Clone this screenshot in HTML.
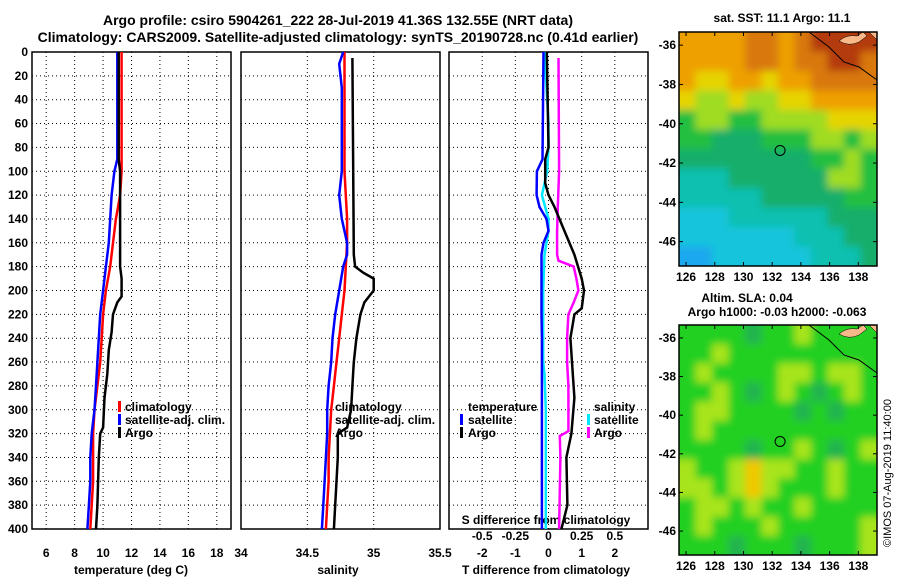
<!DOCTYPE html>
<html><head><meta charset="utf-8"><style>
body{margin:0;background:#fff;}
svg{display:block;font-family:"Liberation Sans",sans-serif;font-weight:bold;}
</style></head><body>
<svg id="c" width="900" height="580" viewBox="0 0 900 580">
<defs>
<filter id="blur" x="-5%" y="-5%" width="110%" height="110%"><feGaussianBlur stdDeviation="4"/></filter>
<clipPath id="clip1"><rect x="679" y="32" width="198" height="234"/></clipPath>
<clipPath id="clip2"><rect x="679" y="325" width="198" height="230"/></clipPath>
</defs>
<text x="338" y="25" font-size="14" text-anchor="middle">Argo profile: csiro 5904261_222 28-Jul-2019 41.36S 132.55E (NRT data)</text>
<text x="338" y="42" font-size="14" text-anchor="middle">Climatology: CARS2009. Satellite-adjusted climatology: synTS_20190728.nc (0.41d earlier)</text>
<text x="782" y="22" font-size="12" text-anchor="middle">sat. SST: 11.1 Argo: 11.1</text>
<text x="747" y="302" font-size="12" text-anchor="middle">Altim. SLA: 0.04</text>
<text x="777" y="316" font-size="12" text-anchor="middle">Argo h1000: -0.03 h2000: -0.063</text>
<text transform="translate(891,547) rotate(-90)" font-size="11" font-weight="normal">©IMOS 07-Aug-2019 11:40:00</text>
<g id="g"></g>
</svg>
<script>
// ---- data ----
const depthAxisTicks=[0,20,40,60,80,100,120,140,160,180,200,220,240,260,280,300,320,340,360,380,400];
const tTicks=[6,8,10,12,14,16,18];
const sTicks=[34,34.5,35,35.5];
const dTicks=[-2,-1,0,1,2];
const dsTicks=[-0.5,-0.25,0,0.25,0.5];
const tArgoDepth=[0,90,100,180,190,205,210,220,235,250,270,290,315,320,340,380,400];
const tArgo=[11.1,11.1,11.2,11.2,11.3,11.3,11.0,10.7,10.6,10.4,10.3,10.1,10.0,9.8,9.7,9.6,9.5];
const tClimDepth=[0,100,120,140,160,180,200,220,240,260,280,300,320,340,360,380,400];
const tClim=[11.3,11.3,11.2,10.9,10.7,10.5,10.2,10.0,9.9,9.8,9.6,9.4,9.3,9.3,9.3,9.2,9.1];
const tSatDepth=[0,90,100,120,140,160,180,200,220,240,260,280,300,320,340,360,380,400];
const tSat=[11.0,11.0,10.8,10.6,10.5,10.4,10.2,10.0,9.8,9.7,9.6,9.5,9.4,9.2,9.1,9.1,9.0,8.9];
const sArgoDepth=[5,170,180,185,190,200,210,220,240,260,280,300,315,320,340,360,380,400];
const sArgo=[34.84,34.85,34.86,34.92,35.0,35.0,34.93,34.90,34.87,34.85,34.84,34.83,34.80,34.73,34.73,34.72,34.71,34.70];
const sClimDepth=[0,100,120,140,160,180,200,220,240,260,280,300,320,340,360,380,400];
const sClim=[34.78,34.78,34.79,34.80,34.80,34.79,34.78,34.76,34.74,34.72,34.70,34.68,34.67,34.66,34.66,34.65,34.64];
const sSatDepth=[0,10,30,60,100,120,140,160,170,180,200,220,240,260,280,300,320,340,360,380,400];
const sSat=[34.77,34.74,34.76,34.76,34.76,34.74,34.76,34.80,34.80,34.77,34.74,34.71,34.69,34.68,34.66,34.65,34.65,34.64,34.63,34.62,34.61];
const dTArgoDepth=[0,80,90,110,120,130,150,170,190,200,215,220,240,290,320,340,380,400];
const dTArgo=[-0.05,0.0,-0.1,-0.1,0.0,0.18,0.48,0.78,1.0,1.07,1.0,0.78,0.66,0.78,0.69,0.54,0.57,0.39];
const dTSatDepth=[0,90,100,120,130,140,150,160,170,220,240,400];
const dTSat=[-0.15,-0.18,-0.35,-0.36,-0.27,-0.06,0.0,-0.15,-0.21,-0.21,-0.2,-0.2];
const dSSatDepth=[0,60,80,100,120,140,150,170,200,260,270,300,400];
const dSSat=[-0.03,0.0,0.0,-0.01,-0.05,0.0,0.0,-0.03,-0.04,-0.04,-0.03,-0.02,-0.02];
const dSArgoDepth=[5,100,130,150,170,175,180,190,200,210,220,240,260,280,300,318,322,340,400];
const dSArgo=[0.075,0.08,0.07,0.065,0.065,0.075,0.19,0.21,0.225,0.19,0.15,0.14,0.14,0.15,0.15,0.15,0.085,0.09,0.08];
const lonTicks=[126,128,130,132,134,136,138];
const latTicks=[-36,-38,-40,-42,-44,-46];
const sstGrid=[
[8,8,8,8,9,9,8,9,10,10,10,10],[8,8,8,8,9,9,8,9,9,10,10,9],[8,7,7,8,8,7,8,8,9,9,9,9],
[7,6,6,7,6,6,7,7,8,8,8,8],[5,6,6,5,5,6,6,6,6,7,7,7],[5,5,4,4,4,5,5,5,6,6,5,6],
[4,4,4,4,4,4,4,4,5,5,6,5],[3,3,3,4,4,4,4,4,4,6,6,5],[3,3,3,3,3,4,4,4,4,4,5,5],
[2,2,2,3,3,3,3,3,3,4,4,4],[2,2,2,2,2,2,2,3,3,3,4,4],[1,1,2,2,2,2,2,2,3,3,3,4]];
const slaGrid=[
[5,5,5,5,4,5,5,6,5,5,5,5],[5,5,6,5,5,5,5,5,5,5,5,5],[5,6,5,5,5,5,6,6,5,6,6,5],
[5,5,6,5,4,5,6,5,4,5,6,5],[5,6,6,5,5,5,5,4,5,4,5,5],[5,6,5,5,5,5,5,5,5,5,5,5],
[5,5,5,5,4,5,5,6,5,4,5,6],[6,5,5,6,7,6,6,5,5,6,5,5],[6,6,5,6,7,6,5,5,5,6,5,5],
[5,6,6,5,6,5,5,6,5,5,5,5],[5,6,5,5,5,6,5,5,5,5,5,6],[5,5,5,4,5,5,5,4,5,5,5,6]];
const argoLon=132.55, argoLat=-41.36;

// ---- drawing ----
const NS='http://www.w3.org/2000/svg';
const G=document.getElementById('g');
function mk(tag,at,parent){const e=document.createElementNS(NS,tag);for(const k in at)e.setAttribute(k,at[k]);(parent||G).appendChild(e);return e;}
const Y0=52,Y1=529;
const yD=d=>Y0+d/400*(Y1-Y0);
function lin(a,b,pa,pb){return v=>pa+(v-a)/(b-a)*(pb-pa);}
const xT=lin(5,19,32,231), xS=lin(34,35.5,241,440), xD=lin(-3,3,449,648), xDS=v=>xD(v*4);

function panel(x0,x1,name){
  const r=mk('rect',{x:x0,y:Y0,width:x1-x0,height:Y1-Y0,fill:'none',stroke:'#000','stroke-width':1.5});
  
  depthAxisTicks.forEach(d=>{if(d>0&&d<400){const l=mk('line',{x1:x0,x2:x1,y1:yD(d),y2:yD(d),stroke:'#000','stroke-dasharray':'1 3'});
    }});
}
function vgrid(ticks,f,name){ticks.forEach(t=>{const x=f(t);const l=mk('line',{x1:x,x2:x,y1:Y0,y2:Y1,stroke:'#000','stroke-dasharray':'1 3'});
  });}
function xlabels(ticks,f,y,name){ticks.forEach(t=>{const e=mk('text',{x:f(t),y:y,'font-size':12,'text-anchor':'middle'});e.textContent=t;
  });}
function series(ds,vs,f,color,name){const pts=ds.map((d,i)=>f(vs[i]).toFixed(1)+','+yD(d).toFixed(1)).join(' ');
  const p=mk('polyline',{points:pts,fill:'none',stroke:color,'stroke-width':2.5});
  }
function txt(x,y,s,name,size,anchor,parent){const e=mk('text',{x:x,y:y,'font-size':size||12,'text-anchor':anchor||'start'},parent);e.textContent=s;
  return e;}
function legMark(x,y,color,name){const r=mk('rect',{x:x,y:y-10,width:3,height:11,fill:color});}

// panel 1 temperature
panel(32,231,'temperature-panel');
vgrid(tTicks,xT,'temperature');
depthAxisTicks.forEach(d=>{txt(28,yD(d)+4,String(d),'depth-tick-label',12,'end');});
xlabels(tTicks,xT,557,'temperature');
txt(131,574,'temperature (deg C)','temperature-axis-title',12,'middle');
series(tClimDepth,tClim,xT,'#ff0000','temperature-climatology-line');
series(tSatDepth,tSat,xT,'#0000ff','temperature-satellite-line');
series(tArgoDepth,tArgo,xT,'#000000','temperature-argo-line');
legMark(118,411,'#ff0000','legend-climatology-marker');txt(125,411,'climatology','legend-climatology');
legMark(118,424,'#0000ff','legend-satellite-marker');txt(125,424,'satellite-adj. clim.','legend-satellite');
legMark(118,437,'#000000','legend-argo-marker');txt(125,437,'Argo','legend-argo');

// panel 2 salinity
panel(241,440,'salinity-panel');
vgrid([34.5,35],xS,'salinity');
xlabels(sTicks,xS,557,'salinity');
txt(338,574,'salinity','salinity-axis-title',12,'middle');
series(sClimDepth,sClim,xS,'#ff0000','salinity-climatology-line');
series(sSatDepth,sSat,xS,'#0000ff','salinity-satellite-line');
series(sArgoDepth,sArgo,xS,'#000000','salinity-argo-line');
txt(335,411,'climatology','legend2-climatology');
txt(335,424,'satellite-adj. clim.','legend2-satellite');
txt(335,437,'Argo','legend2-argo');

// panel 3 differences
panel(449,648,'difference-panel');
vgrid(dTicks,xD,'difference');
xlabels(dTicks,xD,557,'t-difference');
txt(546,574,'T difference from climatology','t-difference-axis-title',12,'middle');
txt(546,524,'S difference from climatology','s-difference-axis-title',12,'middle');
xlabels(dsTicks,xDS,540,'s-difference');
series(dSArgoDepth,dSArgo,xDS,'#ff00ff','salinity-argo-diff-line');
series(dSSatDepth,dSSat,xDS,'#00e8ff','salinity-satellite-diff-line');
series(dTSatDepth,dTSat,xD,'#0000ff','temperature-satellite-diff-line');
series(dTArgoDepth,dTArgo,xD,'#000000','temperature-argo-diff-line');
txt(468,411,'temperature','legend3-temperature-heading');
legMark(460,424,'#0000ff','legend3-t-satellite-marker');txt(468,424,'satellite','legend3-t-satellite');
legMark(460,437,'#000000','legend3-t-argo-marker');txt(468,437,'Argo','legend3-t-argo');
txt(594,411,'salinity','legend3-salinity-heading');
legMark(587,424,'#00e8ff','legend3-s-satellite-marker');txt(594,424,'satellite','legend3-s-satellite');
legMark(587,437,'#ff00ff','legend3-s-argo-marker');txt(594,437,'Argo','legend3-s-argo');

// maps
const sstColors={1:'#1aa8ee',2:'#12c4dc',3:'#08c0b0',4:'#18ae6a',5:'#20bf40',6:'#9fdc22',7:'#e6d400',8:'#eea000',9:'#d87808',10:'#b43a08'};
const slaColors={4:'#22b450',5:'#22d022',6:'#a8e41c',7:'#f0c800'};
function map(top,bot,grid,colors,name,clip){
  const L=679,R=877;const xL=lin(125.51,139.3,L,R), yL=lin(-35.33,-47.24,top,bot);
  const cg=mk('g',{'clip-path':'url(#'+clip+')'});
  const bg=mk('g',{filter:'url(#blur)'},cg);
  const rows=grid.length, cols=grid[0].length, cw=(R-L)/cols, ch=(bot-top)/rows;
  grid.forEach((row,i)=>row.forEach((v,j)=>{
    const x=L+j*cw-(j===0?10:0), y=top+i*ch-(i===0?10:0);
    const w=cw+0.6+(j===0?10:0)+(j===cols-1?10:0), h=ch+0.6+(i===0?10:0)+(i===rows-1?10:0);
    const c=mk('rect',{x:x.toFixed(1),y:y.toFixed(1),width:w.toFixed(1),height:h.toFixed(1),fill:colors[v]},bg);
    }));
  const coast=mk('path',{d:`M${L+130},${top} L${L+150},${top+15} L${L+165},${top+30} L${L+180},${top+35} L${R},${top+48}`,fill:'none',stroke:'#000','stroke-width':1});
  
  const land=mk('path',{d:`M${L+160},${top+9} q8,-7 18,-5 l6,-4 l4,4 l-8,6 q-10,5 -20,-1z M${R-8},${top} L${R},${top} L${R},${top+8} Z`,fill:'#f8b888',stroke:'#000','stroke-width':0.5});
  
  const fr=mk('rect',{x:L,y:top,width:R-L,height:bot-top,fill:'none',stroke:'#000','stroke-width':1.5});
  
  const ci=mk('circle',{cx:xL(argoLon),cy:yL(argoLat),r:5,fill:'none',stroke:'#000','stroke-width':1});
  
  latTicks.forEach(t=>{const y=yL(t);mk('line',{x1:L,x2:L+4,y1:y,y2:y,stroke:'#000'});mk('line',{x1:R-4,x2:R,y1:y,y2:y,stroke:'#000'});
    txt(L-3,y+4,String(t),name+'-lat-label',12,'end');});
  lonTicks.forEach(t=>{const x=xL(t);mk('line',{x1:x,x2:x,y1:bot,y2:bot-4,stroke:'#000'});mk('line',{x1:x,x2:x,y1:top,y2:top+4,stroke:'#000'});
    txt(x,bot+15,String(t),name+'-lon-label',12,'middle');});
}
map(32,266,sstGrid,sstColors,'sst-map','clip1');
map(325,555,slaGrid,slaColors,'sla-map','clip2');
</script>
</body></html>
